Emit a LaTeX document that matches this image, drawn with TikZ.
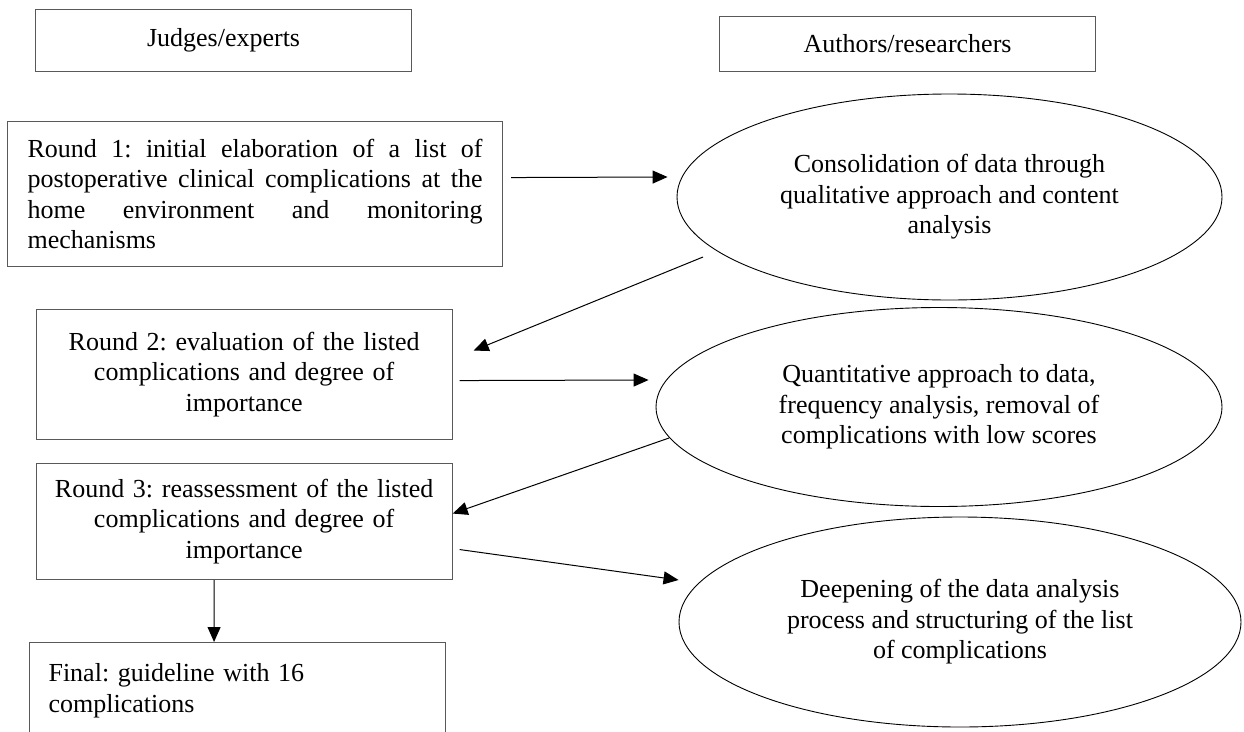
\documentclass[tikz,border=0pt]{standalone}
\usepackage{fontspec}
\setmainfont{Liberation Serif}
\usetikzlibrary{shapes.geometric,arrows.meta,calc}
\frenchspacing
\begin{document}
\begin{tikzpicture}[x=1pt,y=-1pt,
  txt/.style={font=\fontsize{26}{30.5}\selectfont},
  box/.style={txt,draw=black!65,line width=1.1pt,rectangle,inner sep=0pt,anchor=north west},
  oval/.style={txt,draw=black,line width=0.9pt,ellipse,inner sep=0pt,align=center},
  arr/.style={draw=black,line width=1pt,-{Triangle[length=15pt,width=13pt]}}
]
\clip (0,0) rectangle (1244,731);
\fill[white] (0,0) rectangle (1244,731);
\node[box,minimum width=376pt,minimum height=62pt] (judges) at (35,9) {Judges/experts};
\node[box,minimum width=376pt,minimum height=55pt] (authors) at (719,15.7) {Authors/researchers};
\node[box,minimum width=495pt,minimum height=145pt,text width=455pt,align=justify] (r1) at (7,121)
  {Round 1: initial elaboration of a list of\linebreak postoperative clinical complications at the\linebreak home environment and monitoring\linebreak mechanisms};
\node[box,minimum width=416pt,minimum height=130pt,text width=400pt,align=center] (r2) at (35.6,309)
  {Round 2: evaluation of the listed\\complications and degree of\\importance};
\node[box,minimum width=416pt,minimum height=116pt,text width=400pt,align=center] (r3) at (35.6,463)
  {Round 3: reassessment of the listed\\complications and degree of\\importance};
\node[box,minimum width=416pt,minimum height=96pt,text width=378pt,align=left] (fin) at (29,642)
  {Final: guideline with 16\\complications};
\node[oval,minimum width=545pt,minimum height=206pt] (e1) at (949.5,197)
  {Consolidation of data through\\qualitative approach and content\\analysis};
\node[oval,minimum width=566pt,minimum height=199pt] (e2) at (939,407)
  {Quantitative approach to data,\\frequency analysis, removal of\\complications with low scores};
\node[oval,minimum width=562pt,minimum height=210pt] (e3) at (960,622)
  {Deepening of the data analysis\\process and structuring of the list\\of complications};
\draw[arr] ($(r1.east)+(8,-16.5)$) -- ($(e1.west)+(-9,-20)$);
\draw[arr] ($(e1.center)+(-246.5,60)$) -- ($(r2.east)+(21,-24)$);
\draw[arr] ($(r2.east)+(7,6)$) -- ($(e2.west)+(-7,-27)$);
\draw[arr] ($(e2.center)+(-270,31)$) -- ($(r3.east)+(0,-8)$);
\draw[arr] ($(r3.east)+(7,28)$) -- ($(e3.west)+(0,-42)$);
\draw[arr] ($(r3.south)+(-30,0)$) -- ($(fin.north)+(-23.5,0)$);
\end{tikzpicture}
\end{document}
